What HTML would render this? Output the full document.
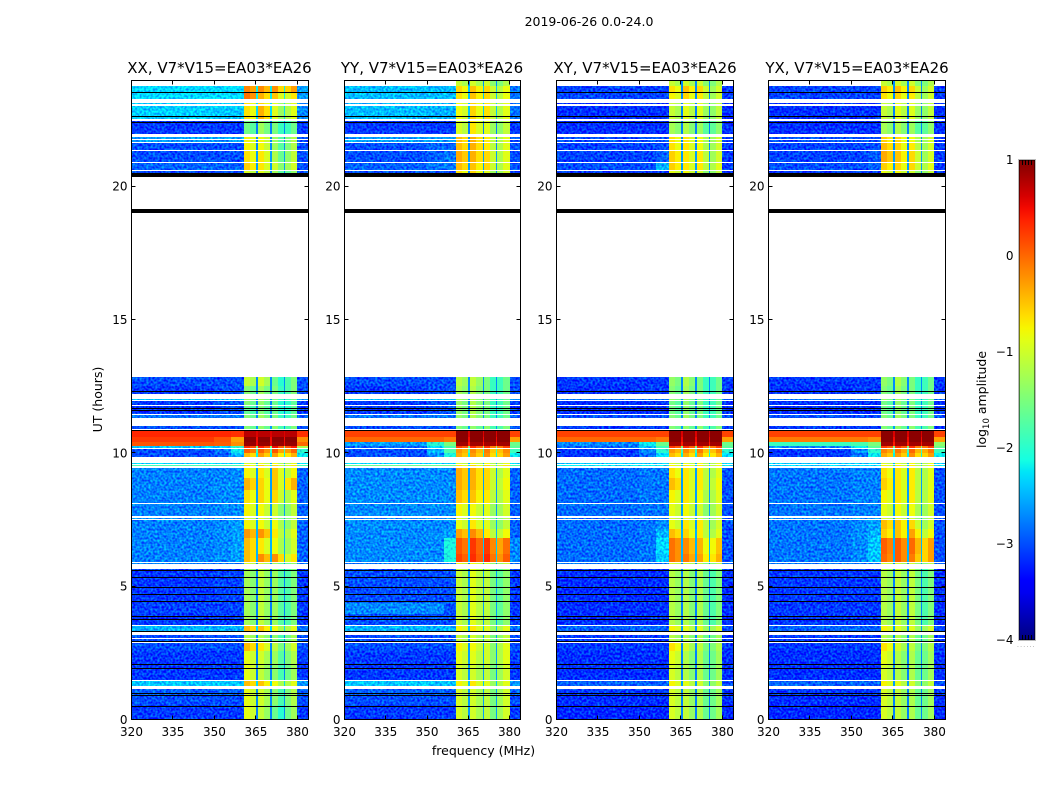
<!DOCTYPE html>
<html>
<head>
<meta charset="utf-8">
<title>2019-06-26 0.0-24.0</title>
<style>
html,body{margin:0;padding:0;background:#fff;}
svg{display:block;}
text{font-family:"DejaVu Sans","Liberation Sans",sans-serif;fill:#000;}
.t12{font-size:12.5px;}
.tick{font-size:12px;}
.title{font-size:15px;text-anchor:middle;}
</style>
</head>
<body>
<svg id="chart" xmlns="http://www.w3.org/2000/svg" width="1050" height="800" viewBox="0 0 1050 800">
  <defs>
    <filter id="grain" filterUnits="userSpaceOnUse" x="0" y="0" width="1050" height="800" color-interpolation-filters="sRGB">
      <feTurbulence type="fractalNoise" baseFrequency="0.45" numOctaves="1" seed="7" result="n"/>
      <feColorMatrix in="n" type="matrix" values="0 0 0 0 0.5  2 0 0 0 -0.5  0 0 0 0 0.5  0 0 0 0 1" result="g"/>
      <feComposite in="SourceGraphic" in2="g" operator="arithmetic" k1="0" k2="1" k3="0.6" k4="-0.3" result="m"/>
      <feComposite in="m" in2="SourceAlpha" operator="in"/>
    </filter>
    <linearGradient id="cbar-gradient" x1="0" y1="1" x2="0" y2="0"></linearGradient>
  </defs>
  <rect x="0" y="0" width="1050" height="800" fill="#fff"/>
  <text class="t12" x="589" y="26" text-anchor="middle">2019-06-26 0.0-24.0</text>
  <text class="title" x="219.5" y="73">XX, V7*V15=EA03*EA26</text>
  <text class="title" x="432" y="73">YY, V7*V15=EA03*EA26</text>
  <text class="title" x="645" y="73">XY, V7*V15=EA03*EA26</text>
  <text class="title" x="857" y="73">YX, V7*V15=EA03*EA26</text>
  <text class="t12" text-anchor="middle" transform="translate(102,399.5) rotate(-90)">UT (hours)</text>
  <text class="t12" x="483.5" y="755" text-anchor="middle">frequency (MHz)</text>
  <text class="t12" text-anchor="middle" transform="translate(986,399.5) rotate(-90)">log<tspan font-size="8.5" dy="3">10</tspan><tspan dy="-3"> amplitude</tspan></text>
  <g id="plots"></g>
  <g id="cbar"></g>
  <text x="1017" y="647" font-size="6" letter-spacing="1.2" style="fill:#888">......</text>
</svg>
<script>
// Column band edges in MHz, which value column each band reads, and the spectral tilt across each bright band.
const freqEdges = [320,350,356,360.5,362.7,365,365.6,367.9,370.2,370.9,373,375,375.6,377.8,380,384];
const columnSource = [0,1,2,3,3,7,4,4,7,5,5,7,6,6,8];
const bandTilt = [0,0,0,0.05,-0.12,0,0.12,-0.14,0,0.2,-0.22,0,-0.18,0.12,0];
// Time rows in UT hours. Anything not covered stays white (no data).
const rowStart = [0,0.55,0.9,1.27,1.49,2.05,2.55,2.92,3.04,3.27,3.55,3.95,4.35,5.82,5.92,6.2,6.8,7.15,7.52,7.63,8.12,8.6,9.05,9.5,9.6,9.83,10,10.19,10.25,10.42,10.6,10.88,11.31,11.45,11.8,11.97,12.2,12.5,20.5,20.6,20.92,21.35,21.67,21.77,21.97,22.42,22.53,23.06,23.25,23.53,23.75];
const rowEnd = [0.55,0.9,1.15,1.45,2.05,2.55,2.87,3,3.15,3.5,3.95,4.35,5.64,5.88,6.2,6.8,7.15,7.48,7.55,8.07,8.6,9.05,9.44,9.56,9.63,10,10.15,10.25,10.42,10.6,10.85,11,11.41,11.76,11.93,12.02,12.5,12.83,20.56,20.87,21.31,21.62,21.73,21.83,22.37,22.44,22.99,23.12,23.53,23.75,23.93];
// Flagged (black) single-pixel integrations, and thick flagged bands, in UT hours.
const flaggedHours = [0.52,0.9,1.0,1.92,2.07,2.95,3.32,3.76,3.88,4.43,4.69,4.98,5.33,5.6,10.86,11.6,11.69,12.31,22.63,23.53];
const flaggedBandStart = [19.0,20.35,22.37];
const flaggedBandEnd = [19.15,20.5,22.42];
const xTicks = [320,335,350,365,380];
const yTicks = [0,5,10,15,20];
const colorbarTicks = [1,0,-1,-2,-3,-4];
// log10 amplitude per row: [<350, 350-356, 356-360.5, band1, band2, band3, band4, notches, >380]
const valuesXX = [
[-3.1,-3.1,-3.1,-.9,-1.2,-1.8,-1.4,-2.75,-3.1],
[-3,-3,-3,-.9,-1.1,-1.6,-1.3,-2.7,-3],
[-2.9,-2.9,-2.9,-.9,-1.1,-1.6,-1.3,-2.7,-2.9],
[-2.4,-2.4,-2.4,-.5,-.6,-1,-1,-2.3,-2.6],
[-3.1,-3.1,-3.1,-.9,-1.2,-1.6,-1.4,-2.75,-3.1],
[-3.1,-3.1,-3.1,-.9,-1.1,-1.5,-1.3,-2.75,-3.1],
[-3,-3,-3,-.5,-.8,-1.3,-1.1,-2.7,-3],
[-3,-3,-3,-1.2,-1.3,-1.6,-1.4,-2.7,-3],
[-3,-3,-3,-1.2,-1.3,-1.6,-1.4,-2.7,-3],
[-2.5,-2.5,-2.5,-.5,-.6,-1,-1,-2.3,-2.8],
[-3.1,-3.1,-3.1,-1.3,-1.2,-1.5,-1.6,-2.75,-3.1],
[-3.05,-3.05,-3.05,-1.3,-1.2,-1.5,-1.6,-2.75,-3.1],
[-3.1,-3.05,-3.05,-1.3,-1.2,-1.5,-1.6,-2.75,-3.1],
[-2.8,-2.8,-2.8,-1,-1.1,-1.5,-1.5,-2.7,-2.8],
[-2.75,-2.7,-2.6,-.5,-.3,-.4,-.8,-2.5,-2.9],
[-2.75,-2.7,-2.6,-.5,-.8,-1,-1.1,-2.5,-2.9],
[-2.75,-2.7,-2.6,-.3,-.35,-.9,-1,-2.5,-2.9],
[-2.75,-2.7,-2.6,-.8,-.9,-1,-1.2,-2.5,-2.9],
[-2.7,-2.7,-2.7,-1,-1,-1.3,-1.3,-2.6,-2.9],
[-2.75,-2.7,-2.7,-.8,-.9,-1.2,-1.2,-2.6,-2.9],
[-2.75,-2.7,-2.7,-.7,-.7,-.8,-1,-2.6,-2.9],
[-2.75,-2.7,-2.7,-.45,-.7,-.7,-.5,-2.6,-2.9],
[-2.75,-2.75,-2.7,-.8,-.8,-.7,-.9,-2.6,-2.9],
[-1.8,-1.8,-1.8,-.7,-.7,-.8,-.8,-2.2,-1.8],
[-2.3,-2.3,-2.3,-1,-1,-1,-1,-2.5,-2.3],
[-3,-2.9,-2.5,-.5,-.4,-.5,-.5,-2.2,-2.2],
[-3,-2.8,-2.2,0,-.1,-.1,-.1,-1.9,-2],
[-2.4,-2.3,-2,.3,.3,.3,.3,-1.5,-1.2],
[.1,.05,-.2,.9,.9,.9,.9,.5,0],
[.25,.1,-.3,.95,.95,.95,.95,.5,-.2],
[.35,.35,.3,.75,.75,.75,.75,.6,.3],
[-3,-3,-3,-1.5,-1.5,-1.6,-1.6,-2.6,-3],
[-2.8,-2.8,-2.8,-1.5,-1.4,-1.7,-1.7,-2.7,-2.9],
[-3.1,-3,-3,-1.7,-1.6,-1.8,-1.8,-2.75,-3.1],
[-3.1,-3,-3,-1.5,-1.5,-1.8,-1.8,-2.75,-3.1],
[-2.4,-2.4,-2.4,-1.4,-1.4,-1.7,-1.7,-2.6,-2.6],
[-3.1,-3,-3,-1.5,-1.4,-1.7,-1.6,-2.7,-3],
[-3,-3,-3,-1.1,-1.1,-1.8,-1.6,-2.7,-3],
[-3,-3,-3,-1,-1,-1.5,-1.5,-2.75,-3],
[-2.9,-2.9,-2.9,-.6,-.8,-1.2,-1.1,-2.6,-3],
[-3,-3,-3,-.7,-.8,-1.4,-1.2,-2.6,-3],
[-3,-3,-3,-.8,-.9,-1.5,-1.3,-2.7,-3],
[-2.6,-2.6,-2.6,-.8,-.9,-1.5,-1.3,-2.7,-3],
[-2.6,-2.6,-2.6,-.8,-.9,-1.5,-1.3,-2.7,-3],
[-3.1,-3.1,-3.1,-1.6,-1.4,-1.7,-1.7,-2.75,-3.1],
[-3.1,-3.1,-3.1,-1.6,-1.4,-1.7,-1.7,-2.75,-3.1],
[-2.35,-2.4,-2.4,-.7,-.5,-1.1,-1,-2.3,-2.7],
[-2.4,-2.4,-2.4,-.7,-.7,-1.1,-1,-2.3,-2.7],
[-2.3,-2.3,-2.3,-.1,-.5,-.7,-.8,-2.2,-2.6],
[-2.3,-2.3,-2.3,-.2,-.3,-.4,-.4,-2.2,-2.6],
[null,null,null,null,null,null,null,null,null]
];
const valuesYY = [
[-3.1,-3.1,-3.1,-1,-1.1,-1.3,-1.1,-2.6,-3.1],
[-3,-3,-3,-1,-1.1,-1.3,-1.1,-2.6,-3],
[-2.9,-2.9,-2.9,-1,-1.1,-1.3,-1.1,-2.6,-2.9],
[-2.4,-2.4,-2.4,-.8,-.8,-1.1,-1,-2.4,-2.6],
[-3.1,-3.1,-3.1,-1,-1.1,-1.3,-1.1,-2.6,-3.1],
[-3.1,-3.1,-3.1,-.9,-1,-1.2,-1,-2.6,-3.1],
[-3,-3,-3,-.8,-.9,-1.2,-1,-2.6,-3],
[-3,-3,-3,-1.1,-1.1,-1.3,-1.2,-2.6,-3],
[-3,-3,-3,-1.1,-1.1,-1.3,-1.2,-2.6,-3],
[-2.5,-2.5,-2.5,-.8,-.8,-1.1,-1,-2.4,-2.8],
[-3,-3,-3,-1.1,-1,-1.3,-1.5,-2.6,-3.1],
[-2.7,-2.7,-3,-1.1,-1,-1.3,-1.5,-2.6,-3.1],
[-3,-3,-3,-1.1,-1,-1.3,-1.5,-2.6,-3.1],
[-2.8,-2.8,-2.8,-.9,-.9,-1.2,-1.2,-2.7,-2.8],
[-2.7,-2.7,-2.1,.15,.2,.15,-.05,-2.4,-2.7],
[-2.7,-2.7,-2.1,.05,.15,.05,-.15,-2.4,-2.7],
[-2.7,-2.7,-2.6,-.35,-.3,-.9,-.9,-2.5,-2.9],
[-2.7,-2.7,-2.7,-.9,-.8,-1.1,-1.2,-2.5,-2.9],
[-2.7,-2.7,-2.7,-1,-1,-1.3,-1.3,-2.6,-2.9],
[-2.7,-2.7,-2.7,-.8,-.9,-1.1,-1.1,-2.6,-2.9],
[-2.7,-2.7,-2.7,-.5,-.6,-.9,-1,-2.6,-2.9],
[-2.7,-2.7,-2.7,-.4,-.5,-.8,-.9,-2.6,-2.9],
[-2.7,-2.7,-2.7,-.4,-.5,-.8,-1,-2.6,-2.9],
[-1.6,-1.6,-1.6,-.7,-.7,-.8,-.8,-2.2,-1.8],
[-2.3,-2.3,-2.3,-1,-1,-1,-1,-2.5,-2.3],
[-3,-2.7,-2.1,-.4,-.4,-.4,-.4,-2.2,-2.2],
[-3,-2.5,-1.8,-.3,-.3,-.3,-.3,-1.9,-1.9],
[-2.9,-2.3,-1.8,.2,.2,.1,.1,-1.5,-1.7],
[-2.6,-2,-1.5,.85,.85,.85,.85,.4,-1.6],
[0,0,-.1,.95,.95,.95,.95,.5,-.3],
[.2,.2,.2,.95,.95,.95,.95,.6,.2],
[-3,-3,-3,-1.5,-1.5,-1.6,-1.6,-2.6,-3],
[-2.8,-2.8,-2.8,-1.4,-1.3,-1.7,-1.7,-2.7,-2.9],
[-3.1,-3,-3,-1.4,-1.3,-1.7,-1.7,-2.75,-3.1],
[-3.1,-3,-3,-1.4,-1.3,-1.7,-1.7,-2.75,-3.1],
[-2.4,-2.4,-2.4,-1.3,-1.3,-1.7,-1.7,-2.6,-2.6],
[-3.1,-3,-3,-1.3,-1.3,-1.7,-1.7,-2.7,-3],
[-3,-3,-3,-1.2,-1.2,-1.7,-1.7,-2.7,-3],
[-3,-3,-3,-.7,-.7,-1.1,-1.1,-2.7,-3],
[-2.9,-2.8,-2.8,-.5,-.6,-.8,-1,-2.6,-3],
[-3,-2.9,-2.8,-.4,-.5,-.8,-1,-2.6,-3],
[-3,-2.9,-2.9,-.5,-.5,-.9,-1,-2.7,-3],
[-2.6,-2.6,-2.6,-.5,-.5,-.9,-1,-2.7,-3],
[-2.6,-2.6,-2.6,-.5,-.5,-.9,-1,-2.7,-3],
[-3.1,-3.1,-3.1,-1,-.8,-1.1,-1.2,-2.75,-3.1],
[-3.1,-3.1,-3.1,-1,-.8,-1.1,-1.2,-2.75,-3.1],
[-2.45,-2.5,-2.5,-.85,-.7,-.85,-1,-2.4,-2.8],
[-2.5,-2.5,-2.5,-.85,-.7,-.85,-1,-2.4,-2.8],
[-2.45,-2.45,-2.45,-.7,-.6,-.8,-.95,-2.4,-2.8],
[-2.45,-2.45,-2.45,-.65,-.6,-.8,-.95,-2.4,-2.8],
[null,null,null,-1.1,-1.1,-1.2,-1.3,-2.7,null]
];
const valuesXY = [
[-3.2,-3.2,-3.2,-1,-1.2,-1.4,-1.4,-2.75,-3.2],
[-3.15,-3.15,-3.15,-1,-1.2,-1.4,-1.4,-2.75,-3.15],
[-3.1,-3.1,-3.1,-1,-1.2,-1.4,-1.4,-2.75,-3.1],
[-2.9,-2.9,-2.9,-.8,-1,-1.2,-1.2,-2.6,-3],
[-3.15,-3.15,-3.15,-1,-1.3,-1.4,-1.4,-2.75,-3.15],
[-3.15,-3.15,-3.15,-.9,-1.3,-1.4,-1.4,-2.75,-3.15],
[-3.1,-3.1,-3.1,-.7,-1.1,-1.3,-1.3,-2.7,-3.1],
[-3.1,-3.1,-3.1,-1.2,-1.3,-1.4,-1.4,-2.7,-3.1],
[-3.1,-3.1,-3.1,-1.2,-1.3,-1.4,-1.4,-2.7,-3.1],
[-2.9,-2.9,-2.9,-.8,-1,-1.1,-1.1,-2.6,-3],
[-3.15,-3.15,-3.15,-1.2,-1.3,-1.4,-1.6,-2.75,-3.15],
[-3.15,-3.15,-3.15,-1.2,-1.3,-1.4,-1.6,-2.75,-3.15],
[-3.15,-3.15,-3.15,-1.2,-1.3,-1.4,-1.6,-2.75,-3.15],
[-2.8,-2.8,-2.8,-1,-1.1,-1.3,-1.3,-2.7,-2.9],
[-2.85,-2.8,-2.4,-.1,-.2,-.5,-.5,-2.5,-3],
[-2.85,-2.8,-2.3,-.1,-.3,-.6,-.6,-2.5,-3],
[-2.85,-2.8,-2.5,-.5,-.7,-.9,-1,-2.5,-3],
[-2.85,-2.8,-2.7,-.9,-.8,-.9,-1.1,-2.6,-3],
[-2.8,-2.8,-2.8,-1,-1,-1.2,-1.2,-2.6,-3],
[-2.85,-2.8,-2.8,-.9,-.9,-1.2,-1.1,-2.6,-3],
[-2.85,-2.8,-2.8,-.8,-.8,-1,-1,-2.6,-3],
[-2.85,-2.8,-2.8,-.5,-.8,-.9,-.9,-2.6,-3],
[-2.85,-2.8,-2.8,-.7,-.8,-.9,-1,-2.6,-3],
[-2.2,-2.2,-2.2,-.8,-.8,-.9,-.9,-2.3,-2.2],
[-2.4,-2.4,-2.4,-1,-1,-1,-1,-2.5,-2.4],
[-3.1,-2.9,-2.3,-.5,-.5,-.5,-.5,-2.2,-2.3],
[-3.1,-2.7,-2,-.3,-.3,-.3,-.3,-1.9,-2],
[-2.9,-2.4,-1.9,.2,.2,.1,.1,-1.5,-1.7],
[-2.7,-2.2,-1.6,.85,.85,.85,.85,.4,-1.6],
[0,0,-.1,.95,.95,.95,.95,.5,-.3],
[.2,.2,.2,.95,.95,.95,.95,.6,.2],
[-3.1,-3.1,-3.1,-1.5,-1.5,-1.6,-1.6,-2.6,-3.1],
[-3,-3,-3,-1.5,-1.4,-1.7,-1.7,-2.7,-3],
[-3.15,-3.15,-3.15,-1.6,-1.5,-1.7,-1.7,-2.75,-3.15],
[-3.15,-3.15,-3.15,-1.6,-1.5,-1.7,-1.7,-2.75,-3.15],
[-2.8,-2.8,-2.8,-1.4,-1.4,-1.7,-1.7,-2.6,-2.9],
[-3.15,-3.1,-3.1,-1.5,-1.4,-1.7,-1.7,-2.7,-3.1],
[-3.1,-3.1,-3.1,-1.4,-1.3,-1.7,-1.7,-2.7,-3.1],
[-3.1,-3.1,-3.1,-.9,-.9,-1.2,-1.2,-2.75,-3.1],
[-3,-3,-2.5,-.6,-.8,-.9,-1,-2.6,-3.1],
[-3.05,-3.05,-2.9,-.6,-.8,-.9,-1.1,-2.6,-3.1],
[-3.05,-3.05,-3,-.7,-.8,-1,-1.1,-2.7,-3.1],
[-3,-3,-3,-.7,-.8,-1,-1.1,-2.7,-3.1],
[-3,-3,-3,-.7,-.8,-1,-1.1,-2.7,-3.1],
[-3.15,-3.15,-3.15,-1.3,-1.3,-1.5,-1.5,-2.75,-3.15],
[-3.15,-3.15,-3.15,-1.3,-1.3,-1.5,-1.5,-2.75,-3.15],
[-3.15,-3.15,-3.15,-1.1,-1,-1.1,-1.2,-2.75,-3.15],
[-3.15,-3.15,-3.15,-1.1,-1,-1.1,-1.2,-2.75,-3.15],
[-3.05,-3.05,-3.05,-.8,-.7,-.9,-1.1,-2.7,-3.1],
[-3.05,-3.05,-3.05,-.7,-.6,-.8,-1.1,-2.7,-3.1],
[null,null,null,-1.1,-1.1,-1.2,-1.3,-2.7,null]
];
const valuesYX = [
[-3.2,-3.2,-3.2,-1,-1.2,-1.4,-1.4,-2.75,-3.2],
[-3.15,-3.15,-3.15,-1,-1.2,-1.4,-1.4,-2.75,-3.15],
[-3.1,-3.1,-3.1,-1,-1.2,-1.4,-1.4,-2.75,-3.1],
[-2.9,-2.9,-2.9,-.8,-1,-1.2,-1.2,-2.6,-3],
[-3.15,-3.15,-3.15,-1,-1.3,-1.4,-1.4,-2.75,-3.15],
[-3.15,-3.15,-3.15,-.9,-1.3,-1.4,-1.4,-2.75,-3.15],
[-3.1,-3.1,-3.1,-.7,-1.1,-1.3,-1.3,-2.7,-3.1],
[-3.1,-3.1,-3.1,-1.2,-1.3,-1.4,-1.4,-2.7,-3.1],
[-3.1,-3.1,-3.1,-1.2,-1.3,-1.4,-1.4,-2.7,-3.1],
[-2.9,-2.9,-2.9,-.8,-1,-1.1,-1.1,-2.6,-3],
[-3.1,-3.1,-3.1,-1.2,-1.2,-1.3,-1.6,-2.75,-3.15],
[-3.1,-3.1,-3.1,-1.2,-1.2,-1.3,-1.6,-2.75,-3.15],
[-3.1,-3.1,-3.1,-1.2,-1.2,-1.3,-1.6,-2.75,-3.15],
[-2.8,-2.8,-2.8,-1,-1.1,-1.2,-1.3,-2.7,-2.9],
[-2.8,-2.7,-2.4,-.05,-.05,-.3,-.4,-2.5,-3],
[-2.8,-2.7,-2.4,0,-.05,-.2,-.4,-2.5,-3],
[-2.8,-2.7,-2.5,-.6,-.6,-.5,-.9,-2.5,-3],
[-2.8,-2.7,-2.6,-.5,-.6,-.8,-1.1,-2.6,-3],
[-2.7,-2.7,-2.7,-1,-1,-1.2,-1.2,-2.6,-3],
[-2.8,-2.75,-2.75,-.9,-.9,-1,-1.1,-2.6,-3],
[-2.8,-2.75,-2.75,-.8,-.8,-.9,-1,-2.6,-3],
[-2.8,-2.75,-2.75,-.6,-.8,-.9,-1,-2.6,-3],
[-2.8,-2.75,-2.75,-.7,-.8,-.9,-1,-2.6,-3],
[-2.3,-2.3,-2.3,-.8,-.8,-.9,-.9,-2.3,-2.2],
[-2.4,-2.4,-2.4,-1,-1,-1,-1,-2.5,-2.4],
[-3.1,-2.8,-2.2,-.4,-.4,-.4,-.4,-2.2,-2.2],
[-3.1,-2.7,-2,-.2,-.2,-.2,-.2,-1.9,-1.9],
[-2.7,-2.2,-1.7,.2,.2,.1,.1,-1.5,-1.6],
[-1.9,-1.8,-1.5,.85,.85,.85,.85,.4,-1.4],
[-.1,-.1,-.2,.95,.95,.95,.95,.5,-.3],
[.2,.2,.2,.95,.95,.95,.95,.6,.2],
[-3.1,-3.1,-3.1,-1.5,-1.5,-1.6,-1.6,-2.6,-3.1],
[-3,-3,-3,-1.5,-1.4,-1.7,-1.7,-2.7,-3],
[-3.15,-3.15,-3.15,-1.6,-1.5,-1.7,-1.7,-2.75,-3.15],
[-3.15,-3.15,-3.15,-1.6,-1.5,-1.7,-1.7,-2.75,-3.15],
[-2.8,-2.8,-2.8,-1.4,-1.4,-1.7,-1.7,-2.6,-2.9],
[-3.15,-3.1,-3.1,-1.5,-1.4,-1.7,-1.7,-2.7,-3.1],
[-3.1,-3.1,-3.1,-1.4,-1.3,-1.7,-1.7,-2.7,-3.1],
[-3.1,-3.1,-3.1,-.9,-.9,-1.2,-1.2,-2.75,-3.1],
[-3,-3,-2.9,-.6,-.7,-.8,-1,-2.6,-3.1],
[-3.05,-3.05,-2.95,-.4,-.6,-.8,-1.1,-2.6,-3.1],
[-3.05,-3.05,-3,-.5,-.7,-.9,-1.1,-2.7,-3.1],
[-3,-3,-3,-.6,-.7,-1,-1.1,-2.7,-3.1],
[-3,-3,-3,-.6,-.7,-1,-1.1,-2.7,-3.1],
[-3.15,-3.15,-3.15,-1.3,-1.3,-1.5,-1.5,-2.75,-3.15],
[-3.15,-3.15,-3.15,-1.3,-1.3,-1.5,-1.5,-2.75,-3.15],
[-3.15,-3.15,-3.15,-1.1,-1,-1.1,-1.2,-2.75,-3.15],
[-3.15,-3.15,-3.15,-1.1,-1,-1.1,-1.2,-2.75,-3.15],
[-3.05,-3.05,-3.05,-.7,-.7,-.9,-1.1,-2.7,-3.1],
[-3.05,-3.05,-3.05,-.6,-.6,-.8,-1.1,-2.7,-3.1],
[null,null,null,-1.1,-1.1,-1.2,-1.3,-2.7,null]
];
const panelNames = ['xx','yy','xy','yx'];
const panelValues = [valuesXX,valuesYY,valuesXY,valuesYX];

const NS = 'http://www.w3.org/2000/svg';
const panelLeft = [131.5,344.5,556.5,768.5];
const panelRight = [308.5,520.5,733.5,945.5];
const axTop = 80.5, axBottom = 719.5;
const hourPx = 26.67, vMin = -4, vMax = 1, freqMin = 320, freqMax = 384;

function xScale(p, f){ return panelLeft[p] + (f-freqMin)*(panelRight[p]-panelLeft[p])/(freqMax-freqMin); }
function yScale(h){ return axBottom - h*hourPx; }
function lerpAnchors(t, xs, ys){
  for(let i=1;i<xs.length;i++){ if(t<=xs[i]) return ys[i-1]+(ys[i]-ys[i-1])*(t-xs[i-1])/(xs[i]-xs[i-1]); }
  return ys[ys.length-1];
}
function jet(v){
  const t = Math.max(0,Math.min(1,(v-vMin)/(vMax-vMin)));
  const r = lerpAnchors(t,[0,.35,.66,.89,1],[0,0,1,1,.5]);
  const g = lerpAnchors(t,[0,.125,.375,.64,.91,1],[0,0,1,1,0,0]);
  const b = lerpAnchors(t,[0,.11,.34,.65,1],[.5,1,1,0,0]);
  return 'rgb('+Math.round(r*255)+','+Math.round(g*255)+','+Math.round(b*255)+')';
}
function mk(tag, parent, props){
  const e = document.createElementNS(NS,tag);
  for(const k in props) e.setAttribute(k,props[k]);
  parent.appendChild(e);
  return e;
}
const plots = document.getElementById('plots');
panelNames.forEach(function(name,p){
  const panel = mk('g',plots,{});
  
  
  const noisy = mk('g',panel,{filter:'url(#grain)','shape-rendering':'crispEdges'});
  
  
  const smooth = mk('g',panel,{'shape-rendering':'crispEdges'});
  
  
  const vals = panelValues[p];
  const clipTop = axTop;
  for(let r=0;r<rowStart.length;r++){
    const y0 = Math.round(yScale(rowEnd[r]));
    const y1 = Math.round(yScale(rowStart[r]));
    for(let c=0;c<columnSource.length;c++){
      const base = vals[r][columnSource[c]];
      if(base===null) continue;
      const v = base < 0.5 ? base + bandTilt[c] : base;
      const x0 = Math.round(xScale(p,freqEdges[c]));
      const x1 = Math.round(xScale(p,freqEdges[c+1]));
      const cell = mk('rect', v < -1.9 && (c<3||c===14) ? noisy : smooth, {
        x:x0, y:Math.max(y0,Math.ceil(clipTop)), width:x1-x0, height:Math.max(1,y1-y0), fill:jet(v)
      });
      
      
    }
  }
  const flagged = mk('g',panel,{'shape-rendering':'crispEdges'});
  
  
  flaggedHours.forEach(function(h){
    const line = mk('rect',flagged,{x:panelLeft[p],y:Math.round(yScale(h)),width:panelRight[p]-panelLeft[p],height:1,fill:'#000'});
    
    
  });
  flaggedBandStart.forEach(function(h,i){
    const yA = Math.round(yScale(flaggedBandEnd[i]));
    const yB = Math.round(yScale(h));
    const band = mk('rect',flagged,{x:panelLeft[p],y:yA,width:panelRight[p]-panelLeft[p],height:yB-yA,fill:'#000'});
    
    
  });
  const ticks = mk('g',panel,{stroke:'#000','stroke-width':1,'shape-rendering':'crispEdges'});
  
  
  xTicks.forEach(function(f){
    const x = Math.round(xScale(p,f)-.5)+.5;
    const b = mk('line',ticks,{x1:x,x2:x,y1:axBottom,y2:axBottom-4});
    
    
    const t = mk('line',ticks,{x1:x,x2:x,y1:axTop,y2:axTop+4});
    
    
    const lab = mk('text',panel,{x:xScale(p,f),y:736,'text-anchor':'middle','class':'tick'});
    lab.textContent = String(f);
    
    
  });
  yTicks.forEach(function(h){
    const y = Math.round(yScale(h)-.5)+.5;
    const l = mk('line',ticks,{x1:panelLeft[p],x2:panelLeft[p]+4,y1:y,y2:y});
    
    
    const rr = mk('line',ticks,{x1:panelRight[p],x2:panelRight[p]-4,y1:y,y2:y});
    
    
    const lab = mk('text',panel,{x:panelLeft[p]-4,y:yScale(h)+4.5,'text-anchor':'end','class':'tick'});
    lab.textContent = String(h);
    
    
  });
  const frame = mk('rect',panel,{x:panelLeft[p],y:axTop,width:panelRight[p]-panelLeft[p],height:axBottom-axTop,fill:'none',stroke:'#000','stroke-width':1,'shape-rendering':'crispEdges'});
  
  
});

// Colorbar
const cbTop = 160, cbBottom = 640, cbLeft = 1019, cbRight = 1035;
function cbY(v){ return cbBottom - (v-vMin)*(cbBottom-cbTop)/(vMax-vMin); }
const grad = document.getElementById('cbar-gradient');
for(let i=0;i<=40;i++){
  mk('stop',grad,{offset:(i/40),'stop-color':jet(vMin+(vMax-vMin)*i/40)});
}
const cbar = document.getElementById('cbar');
const cbBody = mk('rect',cbar,{x:cbLeft,y:cbTop,width:cbRight-cbLeft,height:cbBottom-cbTop,fill:'url(#cbar-gradient)',stroke:'#000','stroke-width':1,'shape-rendering':'crispEdges'});


const cbOuter = mk('rect',cbar,{x:cbLeft-.5,y:cbTop-.5,width:cbRight-cbLeft+1,height:cbBottom-cbTop+1,fill:'none',stroke:'#bbb','stroke-width':1,'shape-rendering':'crispEdges'});


colorbarTicks.forEach(function(v){
  const lab = mk('text',cbar,{x:1013.5,y:cbY(v)+4,'text-anchor':'end','class':'tick'});
  lab.textContent = v<0 ? '\u2212'+Math.abs(v) : String(v);
  
  
});
[1022,1025,1028,1031].forEach(function(x){
  const a = mk('line',cbar,{x1:x+.5,x2:x+.5,y1:cbTop,y2:cbTop+5,stroke:'#000','stroke-width':1,'shape-rendering':'crispEdges'});
  
  
  const b = mk('line',cbar,{x1:x+.5,x2:x+.5,y1:cbBottom,y2:cbBottom-5,stroke:'#000','stroke-width':1,'shape-rendering':'crispEdges'});
  
  
});
</script>
</body>
</html>
